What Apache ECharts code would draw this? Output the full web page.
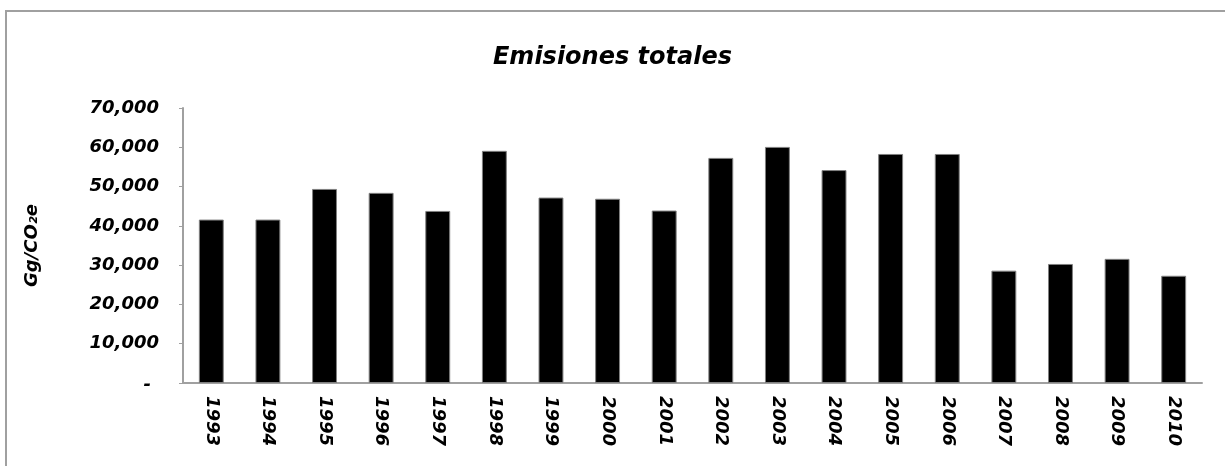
<!DOCTYPE html>
<html>
<head>
<meta charset="utf-8">
<script src="https://cdn.jsdelivr.net/npm/echarts@6/dist/echarts.min.js"></script>
<style>
  html, body { margin: 0; padding: 0; background: #fff; }
  #chart { width: 1225px; height: 466px; }
</style>
</head>
<body>
<div id="chart"></div>
<script>
const YEARS = ['1993', '1994', '1995', '1996', '1997', '1998', '1999', '2000', '2001',
               '2002', '2003', '2004', '2005', '2006', '2007', '2008', '2009', '2010'];
const EMISIONES = [41600, 41600, 49400, 48400, 43800, 59100, 47200, 46900, 43900,
                   57300, 60100, 54200, 58300, 58300, 28600, 30300, 31600, 27300];
const Y_MAX = 70000;
const Y_STEP = 10000;

const FONT = '"DejaVu Sans", Verdana, sans-serif';
const GRIS = '#a0a0a0';

// formato contable: el cero se muestra como guion
const fmt = v => v === 0 ? '{cero|-}' : v.toLocaleString('en-US');

const chart = echarts.init(document.getElementById('chart'));
chart.setOption({
  animation: false,
  title: {
    text: 'Emisiones totales',
    left: 'center', top: 41,
    textStyle: { fontFamily: FONT, fontSize: 24, fontWeight: 'bold', fontStyle: 'italic', color: '#000' },
  },
  grid: { left: 183, right: 23, top: 108, bottom: 83 },
  xAxis: {
    type: 'category', data: YEARS,
    axisLine: { lineStyle: { color: GRIS, width: 2 } },
    axisTick: { show: false },
    axisLabel: {
      rotate: -90, margin: 13, interval: 0,
      fontFamily: FONT, fontSize: 18, fontWeight: 'bold', fontStyle: 'italic', color: '#000',
    },
  },
  yAxis: {
    type: 'value', min: 0, max: Y_MAX, interval: Y_STEP,
    name: 'Gg/CO₂e', nameLocation: 'middle', nameGap: 142, nameRotate: 90,
    nameTextStyle: { fontFamily: FONT, fontSize: 18, fontWeight: 'bold', fontStyle: 'italic', color: '#000' },
    axisLine: { show: true, lineStyle: { color: GRIS, width: 2 } },
    axisTick: { show: true, length: 4, lineStyle: { color: GRIS, width: 1 } },
    splitLine: { show: false },
    axisLabel: {
      margin: 24, formatter: fmt,
      fontFamily: FONT, fontSize: 18, fontWeight: 'bold', fontStyle: 'italic', color: '#000',
      rich: {
        cero: { fontFamily: FONT, fontSize: 18, fontWeight: 'bold', fontStyle: 'italic', color: '#000',
                padding: [4, 8, 0, 0] },
      },
    },
  },
  series: [{
    type: 'bar', data: EMISIONES,
    barCategoryGap: '56%',
    itemStyle: { color: '#000', borderColor: '#808080', borderWidth: 1 },
  }],
  graphic: [{
    type: 'rect', silent: true,
    shape: { x: 6, y: 11, width: 1230, height: 470 },
    style: { fill: 'none', stroke: GRIS, lineWidth: 2 },
  }],
});
</script>
</body>
</html>
